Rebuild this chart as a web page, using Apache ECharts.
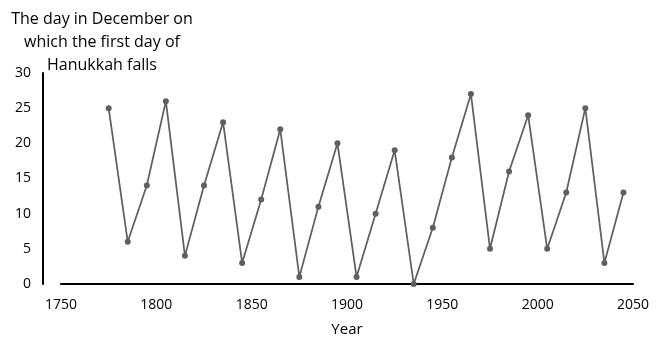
<!DOCTYPE html>
<html><head><meta charset="utf-8">
<script src="https://cdn.jsdelivr.net/npm/echarts@6/dist/echarts.min.js"></script>
<style>html,body{margin:0;padding:0;background:#fff}#c{width:659px;height:345px}</style>
</head><body><div id="c"></div>
<script>
const years = [1775,1785,1795,1805,1815,1825,1835,1845,1855,1865,1875,1885,1895,1905,1915,1925,1935,1945,1955,1965,1975,1985,1995,2005,2015,2025,2035,2045];
const days  = [25,6,14,26,4,14,23,3,12,22,1,11,20,1,10,19,0,8,18,27,5,16,24,5,13,25,3,13];
const xTicks = [1750,1800,1850,1900,1950,2000,2050];
const yTicks = [0,5,10,15,20,25,30];
const titleText = 'The day in December on\nwhich the first day of\nHanukkah falls';
const xName = 'Year';

const chart = echarts.init(document.getElementById('c'));
const font = 'Open Sans, Liberation Sans, sans-serif';
chart.setOption({
  animation:false,
  title:{text:titleText,left:97,top:3,textAlign:'center',
    textStyle:{fontFamily:font,fontSize:16,fontWeight:'normal',color:'#000',lineHeight:23,align:'center'}},
  grid:{left:61,right:26,top:73,bottom:61},
  xAxis:{type:'value',min:xTicks[0],max:xTicks[xTicks.length-1],interval:50,
    name:xName,nameLocation:'middle',nameGap:38,
    nameTextStyle:{fontFamily:font,fontSize:15,color:'#000'},
    axisLine:{lineStyle:{color:'#000',width:2}},axisTick:{show:false},splitLine:{show:false},
    axisLabel:{fontFamily:font,fontSize:14,color:'#000',margin:14,formatter:v=>String(v)}},
  yAxis:{type:'value',min:yTicks[0],max:yTicks[yTicks.length-1],interval:5,offset:18,
    axisLine:{show:true,lineStyle:{color:'#000',width:2}},axisTick:{show:false},splitLine:{show:false},
    axisLabel:{fontFamily:font,fontSize:14,color:'#000',margin:12,formatter:v=>String(v)}},
  series:[{type:'line',data:years.map((y,i)=>[y,days[i]]),
    symbol:'circle',symbolSize:6,
    lineStyle:{color:'#5f5f5f',width:1.75},itemStyle:{color:'#5f5f5f'}}]
});
</script></body></html>
